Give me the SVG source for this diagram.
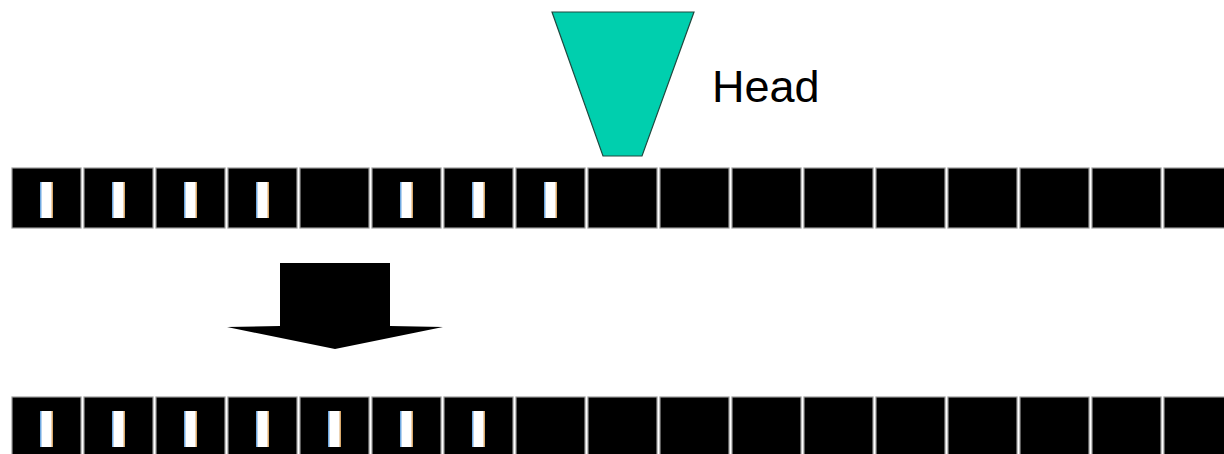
<svg xmlns="http://www.w3.org/2000/svg" width="1224" height="454" viewBox="0 0 1224 454">
  <style>
    .cell { fill: #000; stroke: #9a9a9a; stroke-width: 1.2; }
    .bit { fill: #fff; }
    .bitL { fill: #6fa8e0; }
    .bitR { fill: #d9a86a; }
    .label { font-family: "Liberation Sans", Arial, sans-serif; font-size: 45px; fill: #000; }
  </style>
  <defs>
    <rect id="cell" class="cell" x="0" y="0" width="69" height="60"/>
    <g id="mark">
      <rect class="bit" x="28" y="14" width="13" height="36"/>
      <rect class="bitL" x="28" y="14" width="1.5" height="36"/>
      <rect class="bitR" x="39.5" y="14" width="1.5" height="36"/>
    </g>
  </defs>

  <!-- tape before write -->
  <g id="tape-before">
    <use href="#cell" x="12" y="168"/>
    <use href="#cell" x="84" y="168"/>
    <use href="#cell" x="156" y="168"/>
    <use href="#cell" x="228" y="168"/>
    <use href="#cell" x="300" y="168"/>
    <use href="#cell" x="372" y="168"/>
    <use href="#cell" x="444" y="168"/>
    <use href="#cell" x="516" y="168"/>
    <use href="#cell" x="588" y="168"/>
    <use href="#cell" x="660" y="168"/>
    <use href="#cell" x="732" y="168"/>
    <use href="#cell" x="804" y="168"/>
    <use href="#cell" x="876" y="168"/>
    <use href="#cell" x="948" y="168"/>
    <use href="#cell" x="1020" y="168"/>
    <use href="#cell" x="1092" y="168"/>
    <use href="#cell" x="1164" y="168"/>
    <use href="#mark" x="12" y="168"/>
    <use href="#mark" x="84" y="168"/>
    <use href="#mark" x="156" y="168"/>
    <use href="#mark" x="228" y="168"/>
    <use href="#mark" x="372" y="168"/>
    <use href="#mark" x="444" y="168"/>
    <use href="#mark" x="516" y="168"/>
  </g>

  <!-- read/write head -->
  <g id="head">
    <polygon points="552,12 694,12 642,156 603,156" fill="#00cfae" stroke="#1f4a40" stroke-width="1.2"/>
    <text class="label" x="712" y="102">Head</text>
  </g>

  <!-- transition arrow -->
  <g id="arrow">
    <polygon points="280,263 390,263 390,326 443,327 335,349 227,327 280,326" fill="#000"/>
  </g>

  <!-- tape after write -->
  <g id="tape-after">
    <use href="#cell" x="12" y="397"/>
    <use href="#cell" x="84" y="397"/>
    <use href="#cell" x="156" y="397"/>
    <use href="#cell" x="228" y="397"/>
    <use href="#cell" x="300" y="397"/>
    <use href="#cell" x="372" y="397"/>
    <use href="#cell" x="444" y="397"/>
    <use href="#cell" x="516" y="397"/>
    <use href="#cell" x="588" y="397"/>
    <use href="#cell" x="660" y="397"/>
    <use href="#cell" x="732" y="397"/>
    <use href="#cell" x="804" y="397"/>
    <use href="#cell" x="876" y="397"/>
    <use href="#cell" x="948" y="397"/>
    <use href="#cell" x="1020" y="397"/>
    <use href="#cell" x="1092" y="397"/>
    <use href="#cell" x="1164" y="397"/>
    <use href="#mark" x="12" y="397"/>
    <use href="#mark" x="84" y="397"/>
    <use href="#mark" x="156" y="397"/>
    <use href="#mark" x="228" y="397"/>
    <use href="#mark" x="300" y="397"/>
    <use href="#mark" x="372" y="397"/>
    <use href="#mark" x="444" y="397"/>
  </g>
</svg>
